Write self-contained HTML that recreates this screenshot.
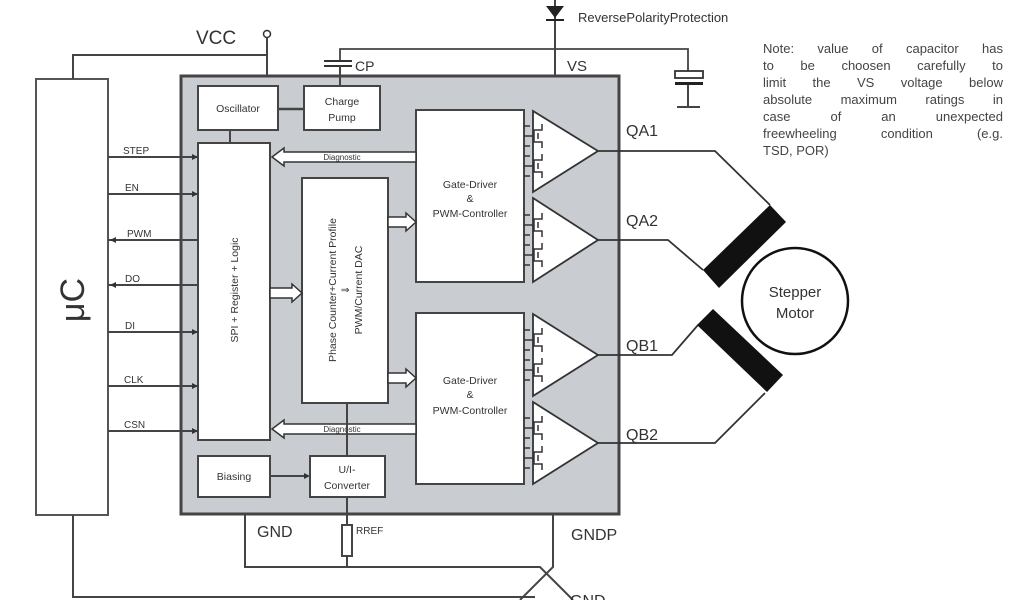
<!DOCTYPE html>
<html><head><meta charset="utf-8"><style>
html,body{margin:0;padding:0;background:#fff;width:1024px;height:600px;overflow:hidden;position:relative}
svg{display:block}
text{font-family:"Liberation Sans",sans-serif;fill:#333}
.note{position:absolute;left:763px;top:40px;width:240px;font:13px/17px "Liberation Sans",sans-serif;color:#444}
.note div{text-align:justify;text-align-last:justify;white-space:nowrap}
.note div.l{text-align-last:left}
</style></head><body>
<svg width="1024" height="600" viewBox="0 0 1024 600" xmlns="http://www.w3.org/2000/svg">
<defs>
<g id="tr" fill="none" stroke="#333" stroke-width="1.5">
 <path d="M0,0 L10,0 L10,-6 L18,-6 L18,-12 M10,0 L10,6 L18,6 L18,12 M14,-3 L14,3 M0,10 L6,10 M0,-10 L6,-10"/>
</g>
</defs>
<rect x="36" y="79" width="72" height="436" fill="#fff" stroke="#555" stroke-width="2"/>
<text transform="translate(84,300) rotate(-90)" font-size="34" text-anchor="middle">μC</text>
<text x="196" y="44" font-size="19">VCC</text>
<circle cx="267" cy="34" r="3.5" fill="#fff" stroke="#333" stroke-width="1.5"/>
<polyline points="73,79 73,55 267,55" fill="none" stroke="#444" stroke-width="2"/>
<line x1="267" y1="38" x2="267" y2="76" stroke="#444" stroke-width="2"/>
<rect x="181" y="76" width="438" height="438" fill="#c9cdd2" stroke="#444" stroke-width="3"/>
<line x1="555" y1="0" x2="555" y2="76" stroke="#444" stroke-width="2"/>
<polygon points="546,6 564,6 555,18" fill="#222"/>
<line x1="546" y1="20" x2="564" y2="20" stroke="#222" stroke-width="2"/>
<text x="578" y="22" font-size="13">ReversePolarityProtection</text>
<text x="567" y="71" font-size="15">VS</text>
<polyline points="340,61 340,49 688,49 688,71" fill="none" stroke="#444" stroke-width="1.8"/>
<rect x="675" y="71" width="28" height="7" fill="#fff" stroke="#333" stroke-width="1.8"/>
<rect x="675" y="82" width="28" height="3" fill="#222"/>
<line x1="688" y1="85" x2="688" y2="107" stroke="#444" stroke-width="2"/>
<line x1="677" y1="107" x2="700" y2="107" stroke="#444" stroke-width="2"/>
<line x1="324" y1="61" x2="352" y2="61" stroke="#333" stroke-width="2"/>
<line x1="324" y1="66" x2="352" y2="66" stroke="#333" stroke-width="2"/>
<line x1="340" y1="66" x2="340" y2="86" stroke="#444" stroke-width="2"/>
<text x="355" y="71" font-size="14">CP</text>
<g fill="#fff" stroke="#444" stroke-width="2">
<rect x="198" y="86" width="80" height="44"/>
<rect x="304" y="86" width="76" height="44"/>
<rect x="198" y="143" width="72" height="297"/>
<rect x="302" y="178" width="86" height="225"/>
<rect x="416" y="110" width="108" height="172"/>
<rect x="416" y="313" width="108" height="171"/>
<rect x="198" y="456" width="72" height="41"/>
<rect x="310" y="456" width="75" height="41"/>
</g>
<line x1="278" y1="109" x2="304" y2="109" stroke="#444" stroke-width="2.5"/>
<line x1="230" y1="130" x2="230" y2="143" stroke="#444" stroke-width="2"/>
<g font-size="10.5" text-anchor="middle">
<text x="238" y="112">Oscillator</text>
<text x="342" y="105">Charge</text>
<text x="342" y="121">Pump</text>
<text x="470" y="188">Gate-Driver</text>
<text x="470" y="202">&amp;</text>
<text x="470" y="217">PWM-Controller</text>
<text x="470" y="384">Gate-Driver</text>
<text x="470" y="398">&amp;</text>
<text x="470" y="414">PWM-Controller</text>
<text x="234" y="480">Biasing</text>
<text x="347" y="473">U/I-</text>
<text x="347" y="489">Converter</text>
<text transform="translate(238,290) rotate(-90)">SPI + Register + Logic</text>
<text transform="translate(336,290) rotate(-90)">Phase Counter+Current Profile</text>
<text transform="translate(349,290) rotate(-90)">⇓</text>
<text transform="translate(362,290) rotate(-90)">PWM/Current DAC</text>
</g>
<g fill="#fff" stroke="#333" stroke-width="1.5">
<polygon points="416,152 284,152 284,148 272,157 284,166 284,162 416,162"/>
<polygon points="416,424 284,424 284,420 272,429 284,438 284,434 416,434"/>
<polygon points="270,288 292,288 292,284 302,293 292,302 292,298 270,298"/>
<polygon points="388,217 406,217 406,213 416,222 406,231 406,227 388,227"/>
<polygon points="388,373 406,373 406,369 416,378 406,387 406,383 388,383"/>
</g>
<text x="342" y="160" font-size="8" text-anchor="middle">Diagnostic</text>
<text x="342" y="432" font-size="8" text-anchor="middle">Diagnostic</text>
<line x1="347" y1="403" x2="347" y2="456" stroke="#444" stroke-width="2"/>
<line x1="270" y1="476" x2="306" y2="476" stroke="#444" stroke-width="2"/>
<polygon points="310,476 304,473 304,479" fill="#333"/>
<g stroke="#444" stroke-width="2">
<line x1="108" y1="157" x2="198" y2="157"/>
<line x1="108" y1="194" x2="198" y2="194"/>
<line x1="108" y1="240" x2="198" y2="240"/>
<line x1="108" y1="285" x2="198" y2="285"/>
<line x1="108" y1="332" x2="198" y2="332"/>
<line x1="108" y1="386" x2="198" y2="386"/>
<line x1="108" y1="431" x2="198" y2="431"/>
</g>
<g fill="#333">
<polygon points="198,157 192,154 192,160"/><polygon points="198,194 192,191 192,197"/>
<polygon points="110,240 116,237 116,243"/><polygon points="110,285 116,282 116,288"/>
<polygon points="198,332 192,329 192,335"/><polygon points="198,386 192,383 192,389"/>
<polygon points="198,431 192,428 192,434"/>
</g>
<g font-size="10">
<text x="123" y="154">STEP</text><text x="125" y="191">EN</text><text x="127" y="237">PWM</text>
<text x="125" y="282">DO</text><text x="125" y="329">DI</text><text x="124" y="383">CLK</text><text x="124" y="428">CSN</text>
</g>
<g fill="#fff" stroke="#333" stroke-width="1.8">
<polygon points="533,111 533,192 598,151"/>
<polygon points="533,198 533,282 598,240"/>
<polygon points="533,314 533,396 598,355"/>
<polygon points="533,402 533,484 598,443"/>
</g>
<g>
<use href="#tr" transform="translate(524,136)"/><use href="#tr" transform="translate(524,166)"/>
<use href="#tr" transform="translate(524,225)"/><use href="#tr" transform="translate(524,255)"/>
<use href="#tr" transform="translate(524,340)"/><use href="#tr" transform="translate(524,370)"/>
<use href="#tr" transform="translate(524,428)"/><use href="#tr" transform="translate(524,458)"/>
</g>
<g fill="none" stroke="#333" stroke-width="1.8">
<polyline points="598,151 715,151 770,205"/>
<polyline points="598,240 668,240 703,270"/>
<polyline points="598,355 672,355 698,325"/>
<polyline points="598,443 715,443 765,393"/>
</g>
<g font-size="16">
<text x="626" y="136">QA1</text><text x="626" y="226">QA2</text>
<text x="626" y="351">QB1</text><text x="626" y="440">QB2</text>
</g>
<polygon points="703,270 770,205 786,222 719,288" fill="#111"/>
<polygon points="697,325 713,309 783,375 767,392" fill="#111"/>
<circle cx="795" cy="301" r="53" fill="#fff" stroke="#111" stroke-width="2.5"/>
<text x="795" y="297" font-size="15" text-anchor="middle">Stepper</text>
<text x="795" y="318" font-size="15" text-anchor="middle">Motor</text>
<g fill="none" stroke="#444" stroke-width="2">
<line x1="347" y1="497" x2="347" y2="525"/>
<rect x="342" y="525" width="10" height="31" fill="#fff"/>
<polyline points="347,556 347,567"/>
<polyline points="245,514 245,567 540,567 573,600"/>
<polyline points="553,514 553,567 520,600"/>
<polyline points="73,515 73,597 535,597"/>
</g>
<text x="257" y="537" font-size="16">GND</text>
<text x="356" y="534" font-size="10">RREF</text>
<text x="571" y="540" font-size="16">GNDP</text>
<text x="570" y="606" font-size="16">GND</text>
</svg>
<div class="note">
<div>Note: value of capacitor has</div>
<div>to be choosen carefully to</div>
<div>limit the VS voltage below</div>
<div>absolute maximum ratings in</div>
<div>case of an unexpected</div>
<div>freewheeling condition (e.g.</div>
<div class="l">TSD, POR)</div>
</div>
</body></html>
